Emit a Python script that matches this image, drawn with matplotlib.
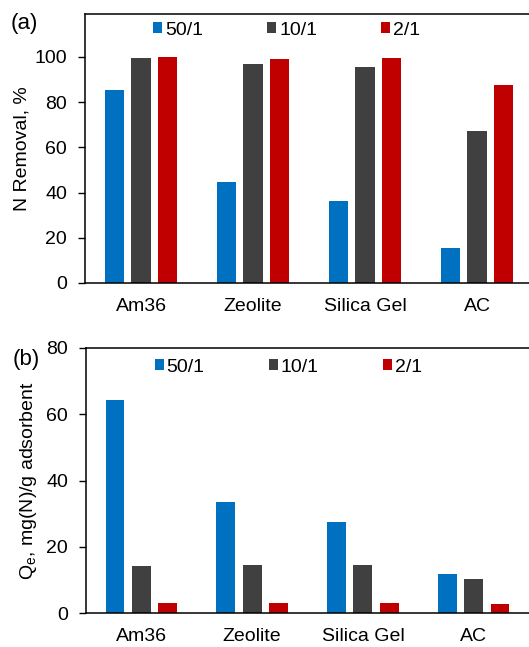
import matplotlib
matplotlib.use("Agg")
import matplotlib.pyplot as plt
import numpy as np
from matplotlib.patches import Patch

plt.rcParams['font.family'] = ['Liberation Sans', 'DejaVu Sans']

categories = ["Am36", "Zeolite", "Silica Gel", "AC"]
series = ["50/1", "10/1", "2/1"]
colors = ["#0070C0", "#404040", "#C00000"]

removal_50 = [85.5, 44.5, 36.4, 15.4]
removal_10 = [99.6, 96.7, 95.7, 67.2]
removal_2 = [99.9, 99.3, 99.7, 87.7]

qe_50 = [64.4, 33.5, 27.4, 11.9]
qe_10 = [14.1, 14.6, 14.4, 10.3]
qe_2 = [2.9, 3.0, 2.9, 2.7]

W, H = 529, 647
fig = plt.figure(figsize=(W / 100, H / 100), dpi=100)

FS = 14
x = np.arange(len(categories))
bw = 0.17
step = 0.238


def make_panel(rect, data, ylim, yticks, ylabel, tag, leg_xy, tag_xy, labelpad):
    ax = fig.add_axes(rect)
    for i, (vals, c) in enumerate(zip(data, colors)):
        ax.bar(x + (i - 1) * step, vals, width=bw, color=c, edgecolor='none', label=series[i])
    ax.set_xlim(-0.5, 3.5)
    ax.set_ylim(*ylim)
    ax.set_yticks(yticks)
    ax.set_xticks(x)
    ax.set_xticklabels(categories, fontsize=FS)
    ax.tick_params(axis='x', length=0, pad=11)
    ax.tick_params(axis='y', length=5, width=1, labelsize=FS, pad=8, color='black')
    for s in ax.spines.values():
        s.set_linewidth(1.1)
        s.set_color('black')
    ax.spines['right'].set_visible(False)
    ax.set_ylabel(ylabel, fontsize=FS, labelpad=labelpad)
    handles = [Patch(facecolor=c, edgecolor='none') for c in colors]
    ax.legend(handles, series, ncol=3, loc='center', bbox_to_anchor=leg_xy,
              frameon=False, fontsize=FS, handlelength=0.47, handleheight=0.47,
              handletextpad=0.15, columnspacing=3.3, borderaxespad=0)
    fig.text(tag_xy[0], tag_xy[1], tag, fontsize=16, ha='left', va='center')
    return ax


ax1 = make_panel([85 / W, 1 - 283 / H, 448 / W, 269 / H],
                 [removal_50, removal_10, removal_2], (0, 119), [0, 20, 40, 60, 80, 100],
                 "N Removal, %", "(a)", (0.45, 0.94), (11 / W, 1 - 24 / H), 3)
ax2 = make_panel([86 / W, 1 - 613 / H, 443 / W, 265 / H],
                 [qe_50, qe_10, qe_2], (0, 80), [0, 20, 40, 60, 80],
                 r"Q$_\mathregular{e}$, mg(N)/g adsorbent", "(b)", (0.457, 0.928), (13 / W, 1 - 360 / H), 5)

fig.savefig("out.png", dpi=100)
